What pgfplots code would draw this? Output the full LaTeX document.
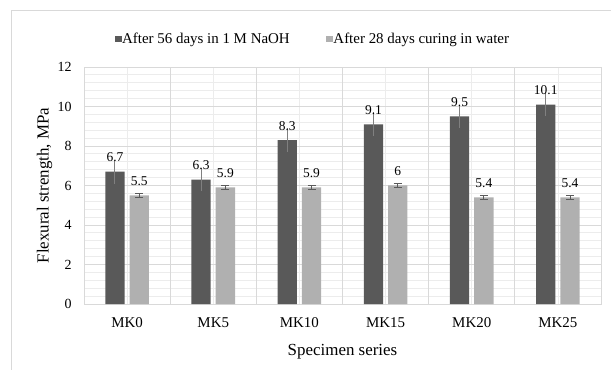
\documentclass[border=0pt]{standalone}
\usepackage{fontspec}
\setmainfont{Liberation Serif}
\usepackage{pgfplots}
\pgfplotsset{compat=1.18}

\definecolor{darkbar}{RGB}{89,89,89}
\definecolor{lightbar}{RGB}{176,176,176}
\definecolor{gridmaj}{RGB}{217,217,217}
\definecolor{gridmin}{RGB}{236,236,236}
\definecolor{errdark}{RGB}{128,128,128}
\definecolor{errlight}{RGB}{90,90,90}

\begin{document}
\begin{tikzpicture}
\path[use as bounding box] (0,0) rectangle (611bp,370bp);
% chart frame
\draw[gridmaj, line width=1bp] (11bp,0) -- (11bp,359bp) -- (611bp,359bp);

\begin{axis}[
  at={(84bp,66bp)}, anchor=south west,
  scale only axis, width=517bp, height=237bp,
  clip=false,
  ybar=5bp, bar width=19.3bp,
  xmin=-0.5, xmax=5.5, ymin=0, ymax=12,
  xtick={0,...,5},
  xticklabels={MK0,MK5,MK10,MK15,MK20,MK25},
  ytick={0,2,...,12},
  minor y tick num=4,
  major tick length=0pt, minor tick length=0pt,
  xmajorgrids=true, ymajorgrids=true, yminorgrids=true,
  major x grid style={draw=gridmin, line width=0.8bp},
  major y grid style={draw=gridmaj, line width=0.8bp},
  minor y grid style={draw=gridmin, line width=0.8bp},
  extra x ticks={-0.5,0.5,1.5,2.5,3.5,4.5,5.5},
  extra x tick labels={},
  extra x tick style={grid=major, major x grid style={draw=gridmaj, line width=0.8bp}},
  axis line style={draw=gridmaj, line width=0.8bp},
  /pgf/number format/assume math mode=true,
  xticklabel style={font=\fontsize{15}{17}\selectfont, anchor=center, yshift=-18.5bp},
  yticklabel style={font=\fontsize{14}{16}\selectfont, anchor=east, xshift=-9bp},
  xlabel={Specimen series},
  ylabel={Flexural strength, MPa},
  xlabel style={font=\fontsize{17}{19}\selectfont, at={(axis description cs:0.5,-0.2025)}, anchor=center},
  ylabel style={font=\fontsize{17}{19}\selectfont, at={(axis description cs:-0.0764,0.5)}, anchor=center},
  nodes near coords,
  every node near coord/.append style={font=\fontsize{13.5}{15}\selectfont, anchor=south, yshift=6bp, text=black},
  legend columns=2,
  legend style={at={(axis description cs:0.0594,1.118)}, anchor=west, draw=none, fill=none,
    inner sep=0pt, font=\fontsize{15}{17}\selectfont,
    nodes={inner sep=0.5bp},
    /tikz/every even column/.append style={column sep=36bp}},
  legend image code/.code={\fill[#1] (0bp,-3.35bp) rectangle (6.7bp,3.35bp);},
]
\addplot[fill=darkbar, draw=none,
  error bars/.cd, y dir=both, y explicit,
  error bar style={draw=errdark, line width=0.9bp}, error mark=none]
  coordinates {(0,6.7) +- (0,0.6) (1,6.3) +- (0,0.6) (2,8.3) +- (0,0.6)
               (3,9.1) +- (0,0.6) (4,9.5) +- (0,0.6) (5,10.1) +- (0,0.6)};
\addplot[fill=lightbar, draw=none,
  error bars/.cd, y dir=both, y explicit,
  error bar style={draw=errlight, line width=0.8bp},
  error mark options={rotate=90, mark size=4bp, draw=errlight, line width=0.8bp}]
  coordinates {(0,5.5) +- (0,0.12) (1,5.9) +- (0,0.12) (2,5.9) +- (0,0.12)
               (3,6) +- (0,0.12) (4,5.4) +- (0,0.12) (5,5.4) +- (0,0.12)};
\legend{After 56 days in 1 M NaOH, After 28 days curing in water}
\end{axis}
\end{tikzpicture}
\end{document}
